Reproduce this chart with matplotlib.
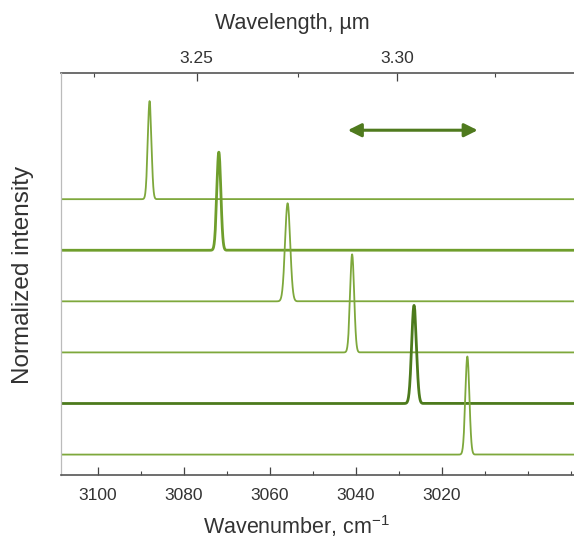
import numpy as np
import matplotlib
matplotlib.use("Agg")
import matplotlib.pyplot as plt
from matplotlib.ticker import MultipleLocator, FixedLocator, FormatStrFormatter

plt.rcParams['font.family'] = ['Liberation Sans', 'DejaVu Sans']
plt.rcParams['mathtext.fontset'] = 'custom'
plt.rcParams['mathtext.rm'] = 'Liberation Sans'
plt.rcParams['mathtext.it'] = 'Liberation Sans'

# Data
peak_centers = [3087.9, 3071.8, 3055.8, 3040.8, 3026.4, 3014.0]   # cm^-1, top to bottom
peak_fwhm = [1.0, 1.1, 1.4, 1.1, 1.3, 1.1]                          # cm^-1
peak_heights = [1.92, 1.92, 1.92, 1.92, 1.92, 1.92]
offsets = [5, 4, 3, 2, 1, 0]
line_colors = ['#7ea83c', '#6f9e2c', '#7ea83c', '#7ea83c', '#4c7a1c', '#7ea83c']
line_widths = [1.3, 2.0, 1.3, 1.3, 2.0, 1.3]
x_major_ticks = [3100, 3080, 3060, 3040, 3020]
wl_major_ticks = [3.25, 3.30]
wl_minor_ticks = [3.225, 3.275, 3.325]
arrow_span = [3041.8, 3011.6]
arrow_level = 6.35

wn = np.linspace(2985, 3112, 6000)

fig = plt.figure(figsize=(5.74, 5.42), dpi=100)
ax = fig.add_axes([0.1063, 0.1236, 0.8937, 0.7417])

for c, fw, h, off, col, lw in zip(peak_centers, peak_fwhm, peak_heights, offsets, line_colors, line_widths):
    sigma = fw / 2.3548
    y = off + h * np.exp(-0.5 * ((wn - c) / sigma) ** 2)
    ax.plot(wn, y, color=col, lw=lw, solid_joinstyle='round')

ax.set_xlim(3108.5, 2989.2)
ax.set_ylim(-0.40, 7.47)
ax.set_yticks([])

ax.xaxis.set_major_locator(FixedLocator(x_major_ticks))
ax.xaxis.set_minor_locator(MultipleLocator(10))
ax.tick_params(axis='x', which='major', direction='in', length=6, width=0.9,
               colors='#444444', labelcolor='#333333', labelsize=12.5, pad=9)
ax.tick_params(axis='x', which='minor', direction='in', length=3, width=0.8, colors='#444444')

for s in ['top', 'right']:
    ax.spines[s].set_visible(False)
ax.spines['bottom'].set_color('#555555')
ax.spines['bottom'].set_linewidth(1.2)
ax.spines['left'].set_color('#bbbbbb')
ax.spines['left'].set_linewidth(0.9)

ax.set_xlabel('Wavenumber, cm$^{-1}$', fontsize=15.5, color='#333333')
ax.xaxis.set_label_coords(0.46, -0.095)
ax.set_ylabel('Normalized intensity', fontsize=17.5, color='#333333')
ax.yaxis.set_label_coords(-0.053, 0.4975)

sec = ax.secondary_xaxis('top', functions=(lambda x: 1e4 / x, lambda x: 1e4 / x))
sec.xaxis.set_major_locator(FixedLocator(wl_major_ticks))
sec.xaxis.set_minor_locator(FixedLocator(wl_minor_ticks))
sec.xaxis.set_major_formatter(FormatStrFormatter('%.2f'))
sec.tick_params(axis='x', which='major', direction='in', length=6, width=0.9,
                colors='#444444', labelcolor='#333333', labelsize=12.5, pad=5)
sec.tick_params(axis='x', which='minor', direction='in', length=3, width=0.8, colors='#444444')
sec.spines['top'].set_color('#555555')
sec.spines['top'].set_linewidth(1.2)

fig.text(0.51, 0.956, 'Wavelength, µm', fontsize=15.5, color='#333333',
         ha='center', va='center')

ax.annotate('', xy=(arrow_span[0], arrow_level), xytext=(arrow_span[1], arrow_level),
            arrowprops=dict(arrowstyle='<|-|>', color='#4f7a1e', lw=2.2,
                            mutation_scale=20, shrinkA=0, shrinkB=0))

fig.savefig('out.png', dpi=100)
